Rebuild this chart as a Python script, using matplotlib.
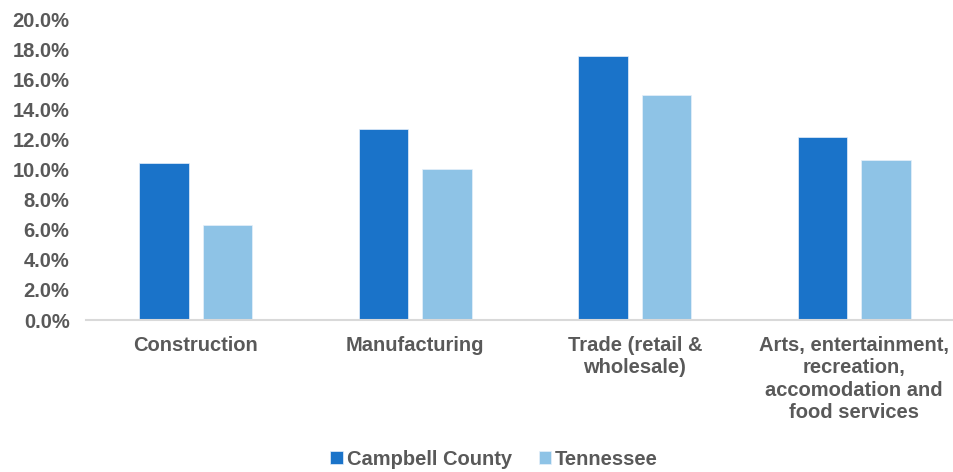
import numpy as np
import matplotlib.pyplot as plt
from matplotlib.ticker import PercentFormatter

categories = ['Construction', 'Manufacturing', 'Trade (retail &\nwholesale)',
              'Arts, entertainment,\nrecreation,\naccomodation and\nfood services']
campbell = [10.45, 12.7, 17.6, 12.2]
tennessee = [6.35, 10.05, 15.0, 10.65]
series_names = ['Campbell County', 'Tennessee']

plt.rcParams['font.family'] = ['Liberation Sans', 'DejaVu Sans']
plt.rcParams['font.weight'] = 'bold'
txt = '#595959'
fs = 14.5

fig = plt.figure(figsize=(9.54, 4.72), dpi=100)
ax = fig.add_axes([0.0904, 0.322, 0.920, 0.636])

x = np.arange(len(categories))
w = 0.2255
off = 0.1447
ax.bar(x - off, campbell, w, color='#1A73C9', edgecolor='#E6F0FA', linewidth=0.5, label=series_names[0])
ax.bar(x + off, tennessee, w, color='#8EC3E6', edgecolor='#E6F0FA', linewidth=0.5, label=series_names[1])

ax.set_xlim(-0.5, len(categories) - 0.5)
ax.set_ylim(0, 20)
ax.set_yticks(np.arange(0, 21, 2))
ax.yaxis.set_major_formatter(PercentFormatter(decimals=1))
ax.set_xticks(x)
ax.set_xticklabels(categories, linespacing=1.22)

for s in ['top', 'right', 'left']:
    ax.spines[s].set_visible(False)
ax.spines['bottom'].set_color('#D9D9D9')
ax.spines['bottom'].set_linewidth(1.5)
ax.tick_params(axis='both', length=0, colors=txt, labelsize=fs)
ax.tick_params(axis='x', pad=11.5)
ax.tick_params(axis='y', pad=12)
for lab in ax.get_xticklabels() + ax.get_yticklabels():
    lab.set_fontweight('bold')

leg = fig.legend(loc='center', bbox_to_anchor=(0.518, 0.027), ncol=2, frameon=False,
                 fontsize=fs, handlelength=0.6, handleheight=0.6, handletextpad=0.2,
                 columnspacing=1.35)
for t in leg.get_texts():
    t.set_color(txt)
    t.set_fontweight('bold')

fig.savefig('out.png', dpi=100)
